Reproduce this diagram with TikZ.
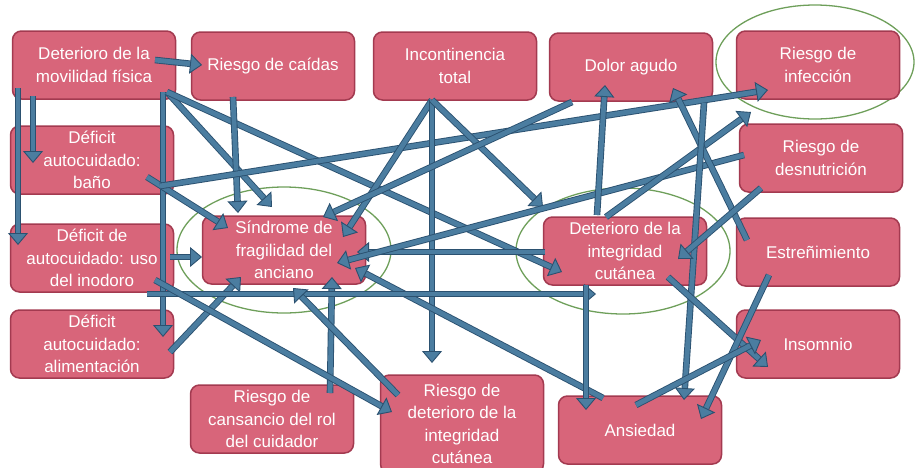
\documentclass[tikz,border=0pt]{standalone}
\usepackage{fontspec}
\setmainfont{Liberation Sans}
\usetikzlibrary{arrows.meta,calc,backgrounds}
\definecolor{boxfill}{HTML}{D8657A}
\definecolor{boxline}{HTML}{A33A50}
\definecolor{ablue}{HTML}{4B7DA0}
\definecolor{adark}{HTML}{2B5170}
\definecolor{egreen}{HTML}{6E9F5A}
\newcommand\linkarrow[4]{\draw[arr] ([shift={(#2)}]#1.center) -- ([shift={(#4)}]#3.center);}
\begin{document}
\begin{tikzpicture}[x=1pt,y=-1pt,
 box/.style={draw=boxline, line width=1.5pt, fill=boxfill, rounded corners=9pt, text=white, align=center, font=\fontsize{17}{22.5}\selectfont, minimum width=163pt, minimum height=68pt, inner sep=1pt},
 arr/.style={draw=adark, line width=0.9pt, double=ablue, double distance=4.8pt, -{Triangle[length=12pt,width=20pt,line width=0.9pt,fill=ablue]}},
 ring/.style={draw=egreen, line width=1.3pt}]
\useasboundingbox (0,0) rectangle (916,467);
% nodes
\node[box] (mov) at (94,65) {Deterioro de la\\movilidad física};
\node[box] (caidas) at (273,66) {Riesgo de caídas};
\node[box] (incont) at (455,66) {Incontinencia\\total};
\node[box] (dolor) at (631,67) {Dolor agudo};
\node[box] (infec) at (818,65) {Riesgo de\\infección};
\node[box] (bano) at (92,160) {Déficit\\autocuidado:\\baño};
\node[box] (desnut) at (821,158) {Riesgo de\\desnutrición};
\node[box] (inodoro) at (92,258) {Déficit de\\autocuidado: uso\\del inodoro};
\node[box] (sindrome) at (284,250) {Síndrome de\\fragilidad del\\anciano};
\node[box] (detint) at (625,251) {Deterioro de la\\integridad\\cutánea};
\node[box] (estre) at (818,252) {Estreñimiento};
\node[box] (alim) at (92,344) {Déficit\\autocuidado:\\alimentación};
\node[box] (insom) at (818,344) {Insomnio};
\node[box] (cans) at (272,419) {Riesgo de\\cansancio del rol\\del cuidador};
\node[box, minimum height=98pt] (riesdet) at (462,424) {Riesgo de\\deterioro de la\\integridad\\cutánea};
\node[box] (ansied) at (640,430) {Ansiedad};
% ellipses
\begin{scope}[on background layer]
\draw[ring] (sindrome.center) ellipse [x radius=107pt, y radius=63pt];
\draw[ring] ([shift={(-2,0)}]detint.center) ellipse [x radius=107pt, y radius=63pt];
\draw[ring] ([shift={(-3,-3)}]infec.center) ellipse [x radius=99pt, y radius=57pt];
\end{scope}
% connectors
\linkarrow{mov}{61,-5}{caidas}{-71,-1}
\linkarrow{mov}{-76,23}{inodoro}{-74,-13}
\linkarrow{mov}{-61,31}{bano}{-59,3}
\linkarrow{mov}{69,27}{alim}{71,-7}
\linkarrow{mov}{73,27}{sindrome}{-12,-43}
\linkarrow{mov}{73,27}{detint}{-63,21}
\linkarrow{caidas}{-40,31}{sindrome}{-46,-37}
\linkarrow{bano}{55,17}{sindrome}{-56,-22}
\linkarrow{bano}{68,26}{infec}{-50,25}
\linkarrow{incont}{-23,34}{sindrome}{59,-13}
\linkarrow{incont}{-23,34}{riesdet}{-30,-61}
\linkarrow{incont}{-23,34}{detint}{-82,-44}
\linkarrow{dolor}{-59,35}{sindrome}{39,-33}
\linkarrow{detint}{-80,1}{sindrome}{73,2}
\linkarrow{desnut}{-77,-3}{sindrome}{53,13}
\linkarrow{ansied}{-37,-32}{sindrome}{71,18}
\linkarrow{cans}{58,-26}{sindrome}{48,27}
\linkarrow{alim}{78,8}{sindrome}{-43,27}
\linkarrow{inodoro}{78,-1}{sindrome}{-82,7}
\linkarrow{inodoro}{55,36}{detint}{-29,43}
\linkarrow{inodoro}{63,22}{riesdet}{-70,-12}
\linkarrow{riesdet}{-64,-29}{sindrome}{9,38}
\linkarrow{detint}{-19,-34}{infec}{-67,47}
\linkarrow{detint}{-28,-36}{dolor}{-26,18}
\linkarrow{estre}{-71,-12}{dolor}{42,21}
\linkarrow{dolor}{73,36}{ansied}{44,-30}
\linkarrow{desnut}{-60,30}{detint}{53,8}
\linkarrow{detint}{43,26}{insom}{-50,23}
\linkarrow{estre}{-49,23}{ansied}{61,-11}
\linkarrow{ansied}{-4,-25}{insom}{-57,-4}
\linkarrow{detint}{-39,34}{ansied}{-54,-20}
\end{tikzpicture}
\end{document}
